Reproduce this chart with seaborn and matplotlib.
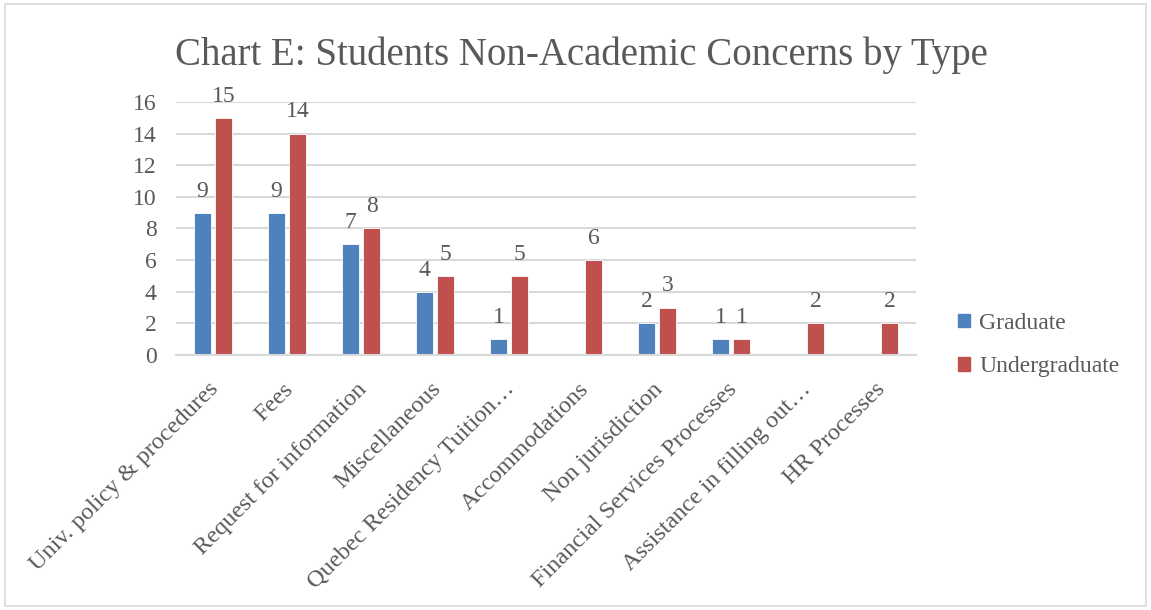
import matplotlib
matplotlib.use("Agg")
import matplotlib.pyplot as plt
import matplotlib.transforms as mtrans
import seaborn as sns
import pandas as pd
import numpy as np
from matplotlib.patches import Rectangle

categories = ["Univ. policy & procedures", "Fees", "Request for information",
              "Miscellaneous", "Quebec Residency Tuition…", "Accommodations",
              "Non jurisdiction", "Financial Services Processes",
              "Assistance in filling out…", "HR Processes"]
graduate = [9, 9, 7, 4, 1, 0, 2, 1, 0, 0]
undergraduate = [15, 14, 8, 5, 5, 6, 3, 1, 2, 2]
series_names = ["Graduate", "Undergraduate"]
title = "Chart E: Students Non-Academic Concerns by Type"
yticks = [0, 2, 4, 6, 8, 10, 12, 14, 16]

colors = {"Graduate": "#4F81BD", "Undergraduate": "#C0504D"}
text_color = "#595959"
grid_color = "#D9D9D9"

rows = []
for c, g, u in zip(categories, graduate, undergraduate):
    rows.append({"cat": c, "series": "Graduate", "val": g if g != 0 else np.nan})
    rows.append({"cat": c, "series": "Undergraduate", "val": u if u != 0 else np.nan})
df = pd.DataFrame(rows)

sns.set_theme(style="white")
plt.rcParams["font.family"] = ["Liberation Serif", "DejaVu Serif"]

fig = plt.figure(figsize=(11.51, 6.10), dpi=100)
ax = fig.add_axes([0.153, 0.418, 0.643, 0.415])

sns.barplot(data=df, x="cat", y="val", hue="series", order=categories,
            hue_order=series_names, palette=colors, width=0.57, gap=0.19,
            errorbar=None, ax=ax, legend=False, saturation=1,
            edgecolor="white", linewidth=0.6)

ax.set_ylim(0, 16)
ax.set_xlim(-0.5, len(categories) - 0.5)
ax.set_yticks(yticks)
ax.set_yticklabels([str(t) for t in yticks])
ax.yaxis.grid(True, color=grid_color, linewidth=1.5)
ax.set_axisbelow(True)
for s in ["top", "right", "left"]:
    ax.spines[s].set_visible(False)
ax.spines["bottom"].set_color(grid_color)
ax.spines["bottom"].set_linewidth(1.5)
ax.tick_params(axis="both", length=0, colors=text_color, labelsize=17, pad=14)
ax.tick_params(axis="x", pad=17)
ax.set_xlabel("")
ax.set_ylabel("")
shift = mtrans.ScaledTranslation(-0.05, 0, fig.dpi_scale_trans)
for lab in ax.get_xticklabels():
    lab.set_rotation(45)
    lab.set_ha("right")
    lab.set_rotation_mode("anchor")
    lab.set_color(text_color)
    lab.set_fontsize(17.5)
    lab.set_transform(lab.get_transform() + shift)
plt.setp(ax.get_yticklabels(), color=text_color)

for cont in ax.containers:
    labels = ["" if (np.isnan(v) or v == 0) else f"{int(v)}" for v in cont.datavalues]
    ax.bar_label(cont, labels=labels, padding=8, fontsize=17, color=text_color)

fig.text(0.505, 0.91, title, ha="center", va="center", fontsize=28, color=text_color)

handles = [Rectangle((0, 0), 1, 1, color=colors[s]) for s in series_names]
fig.legend(handles, series_names, loc="center left", bbox_to_anchor=(0.814, 0.434),
           frameon=False, fontsize=17, handlelength=0.5, handleheight=0.5,
           labelcolor=text_color, labelspacing=0.95, handletextpad=0.4)

border = Rectangle((0.004, 0.006), 0.992, 0.988, transform=fig.transFigure,
                   fill=False, edgecolor="#D9D9D9", linewidth=1.2)
fig.patches.append(border)

fig.savefig("out.png", dpi=100, facecolor="white")
